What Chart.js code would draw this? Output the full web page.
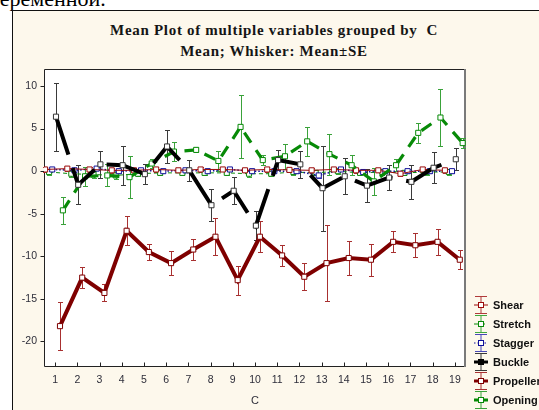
<!DOCTYPE html>
<html><head><meta charset="utf-8">
<script src="https://cdn.jsdelivr.net/npm/chart.js@4.4.1/dist/chart.umd.min.js"></script>
<style>
html,body{margin:0;padding:0;background:#fff;width:539px;height:410px;overflow:hidden;position:relative}
#top{position:absolute;left:-12px;top:-12px;font:22px 'Liberation Serif',serif;line-height:22px;color:#000;white-space:nowrap}
#box{position:absolute;left:12px;top:10px;width:700px;height:500px;border-left:1px solid #111;border-top:1px solid #111;background:#fdf8ec}
#wrap{position:absolute;left:0;top:0;width:539px;height:410px}
.ttl{position:absolute;left:0;width:548px;text-align:center;font:bold 15px 'Liberation Serif',serif;line-height:15px;letter-spacing:0.7px;color:#151515;white-space:nowrap}
#legend{position:absolute;left:473px;top:0;font:bold 11px 'Liberation Sans',sans-serif;color:#111}
.li{position:absolute;left:0;height:20px;display:flex;align-items:center;white-space:nowrap}
.li svg{margin-right:4px;display:block}
</style></head>
<body>
<div id="top">переменной.</div>
<div id="box"></div>
<div class="ttl" style="top:23px">Mean Plot of multiple variables grouped by &nbsp;C</div>
<div class="ttl" style="top:44px">Mean; Whisker: Mean±SE</div>
<div id="wrap"><canvas id="c" width="539" height="410"></canvas></div>
<div id="legend"></div>
<script>
// ---- data ----
const categories = [1,2,3,4,5,6,7,8,9,10,11,12,13,14,15,16,17,18,19];
const xTickLabels = ['1','2','3','4','5','6','7','8','9','10','11','12','13','14','15','16','17','18','19'];
const yTickValues = [10,5,0,-5,-10,-15,-20];

const shear      = [0.2, 0.3, 0.2, 0.1, 0.1, 0.2, 0.1, 0.2, 0.2, 0.1, 0.2, 0.15, 0.1, 0.2, 0.1, 0.1, -0.3, 0.2, 0.1];
const shearSE    = [0.3, 0.3, 0.25, 0.3, 0.2, 0.3, 0.25, 0.3, 0.2, 0.25, 0.3, 0.25, 0.3, 0.2, 0.3, 0.25, 0.3, 0.25, 0.3];
const stretch    = [-0.1, -0.3, -0.4, -0.5, -0.3, -0.2, -0.2, -0.2, -0.2, -0.3, -0.3, -0.1, -0.2, 0.0, -0.2, -0.1, -0.2, -0.1, -0.1];
const stretchSE  = [0.3, 0.35, 0.4, 0.4, 0.3, 0.3, 0.3, 0.3, 0.3, 0.35, 0.3, 0.3, 0.3, 0.3, 0.3, 0.3, 0.3, 0.3, 0.3];
const stagger    = [0.2, 0.1, 0.3, 0.0, 0.1, 0.0, 0.1, 0.0, 0.2, 0.0, 0.0, 0.0, -0.5, 0.2, -0.1, 0.0, 0.0, 0.0, 0.0];
const staggerSE  = [0.2, 0.2, 0.2, 0.2, 0.2, 0.2, 0.2, 0.2, 0.2, 0.2, 0.2, 0.2, 0.25, 0.2, 0.2, 0.2, 0.2, 0.2, 0.2];
const buckle     = [6.4, -1.6, 0.8, 0.7, -0.35, 2.9, 0.1, -4.0, -2.3, -6.4, 1.3, 0.8, -2.0, -0.6, -1.7, -0.75, -1.25, 0.4, 1.4];
const buckleSE   = [4.0, 2.3, 1.6, 2.3, 1.2, 1.9, 1.2, 1.9, 1.6, 1.7, 1.2, 1.55, 5.0, 2.1, 1.9, 1.5, 2.0, 1.8, 1.3];
const propeller  = [-18.2, -12.5, -14.3, -7.0, -9.5, -10.8, -9.2, -7.7, -12.8, -7.7, -9.9, -12.4, -10.8, -10.2, -10.4, -8.3, -8.7, -8.3, -10.4];
const propellerSE= [2.8, 1.2, 1.0, 1.7, 0.9, 1.4, 1.2, 2.2, 1.7, 1.8, 1.2, 1.6, 4.5, 2.0, 1.9, 1.25, 1.4, 1.5, 1.1];
const opening    = [-4.6, -0.6, -0.5, -0.7, 0.9, 2.3, 2.5, 1.2, 5.2, 1.3, 1.75, 3.5, 2.0, 0.7, -1.2, 0.7, 4.5, 6.3, 3.3];
const openingSE  = [1.6, 1.1, 1.3, 2.5, 0.5, 1.1, 0.3, 1.2, 3.7, 0.6, 1.5, 1.7, 2.4, 1.2, 1.6, 0.7, 1.2, 3.35, 0.6];

// ---- styling ----
const series = [
  {label:'Shear',     values:shear,     se:shearSE,     off:-0.45, color:'#9b0a0a', err:'#b03a3a', width:1,   dash:[],      order:3, lw:1},
  {label:'Stretch',   values:stretch,   se:stretchSE,   off:-0.27, color:'#0a8a0a', err:'#3fa83f', width:1,   dash:[4,3],   order:5, lw:1},
  {label:'Stagger',   values:stagger,   se:staggerSE,   off:-0.13, color:'#10109a', err:'#4848b8', width:1.5, dash:[1.5,2], order:4, lw:1},
  {label:'Buckle',    values:buckle,    se:buckleSE,    off:0.04,  color:'#000000', err:'#3a3a3a', width:4,   dash:[40,14], order:0, lw:3, fillMarker:true},
  {label:'Propeller', values:propeller, se:propellerSE, off:0.22,  color:'#7f0000', err:'#a83030', width:4,   dash:[],      order:1, lw:3},
  {label:'Opening',   values:opening,   se:openingSE,   off:0.35,  color:'#078a07', err:'#3aa23a', width:3.2, dash:[12,9],  order:2, lw:3}
];

const datasets = series.map(s => ({
  label: s.label,
  data: s.values.map((v,i) => ({x: categories[i] + s.off, y: v})),
  errors: s.se,
  errColor: s.err,
  borderColor: s.color,
  borderWidth: s.width,
  borderDash: s.dash,
  pointStyle: 'rect',
  pointRadius: 3.6,
  pointBorderWidth: 1,
  pointBorderColor: s.color === '#000000' ? '#333' : s.color,
  pointBackgroundColor: '#fff',
  tension: 0,
  fill: false,
  order: s.order
}));

const framePlugin = {
  id: 'frame',
  beforeDraw(chart) {
    const {ctx, chartArea: a} = chart;
    ctx.save();
    ctx.fillStyle = '#fff';
    ctx.fillRect(a.left, a.top, a.right - a.left, a.bottom - a.top);
    ctx.restore();
  },
  beforeDatasetsDraw(chart) {
    const {ctx, chartArea: a, scales: {x, y}} = chart;
    ctx.save();
    ctx.lineWidth = 1;
    ctx.strokeStyle = '#222';
    const L = Math.round(a.left) + 0.5, B = Math.round(a.bottom) - 0.5, T = Math.round(a.top) + 0.5;
    ctx.beginPath();
    ctx.moveTo(L, T); ctx.lineTo(L, B); ctx.lineTo(a.right, B);
    ctx.moveTo(L, T); ctx.lineTo(a.right, T);
    ctx.stroke();
    ctx.strokeStyle = '#7a7a7a'; ctx.lineWidth = 2;
    ctx.beginPath(); ctx.moveTo(a.right - 1, a.top); ctx.lineTo(a.right - 1, a.bottom); ctx.stroke();
    ctx.strokeStyle = '#222'; ctx.lineWidth = 1;
    ctx.beginPath();
    categories.forEach(c => { const px = Math.round(x.getPixelForValue(c)) + 0.5; ctx.moveTo(px, B); ctx.lineTo(px, B - 4); });
    yTickValues.forEach(v => { const py = Math.round(y.getPixelForValue(v)) + 0.5; ctx.moveTo(L, py); ctx.lineTo(L - 4, py); });
    ctx.stroke();
    ctx.restore();
  }
};

const errorBars = {
  id: 'errorBars',
  beforeDatasetsDraw(chart) {
    const {ctx, scales: {x, y}} = chart;
    ctx.save();
    ctx.lineWidth = 1;
    chart.data.datasets.forEach((ds, i) => {
      ctx.strokeStyle = ds.errColor;
      ctx.beginPath();
      ds.data.forEach((p, j) => {
        const e = ds.errors[j];
        const px = Math.round(x.getPixelForValue(p.x)) + 0.5;
        const y1 = Math.round(y.getPixelForValue(p.y + e)) + 0.5;
        const y2 = Math.round(y.getPixelForValue(p.y - e)) + 0.5;
        ctx.moveTo(px, y1); ctx.lineTo(px, y2);
        ctx.moveTo(px - 2.5, y1); ctx.lineTo(px + 2.5, y1);
        ctx.moveTo(px - 2.5, y2); ctx.lineTo(px + 2.5, y2);
      });
      ctx.stroke();
    });
    ctx.restore();
  }
};

const tickFont = {family: "'Liberation Sans', Arial, sans-serif", size: 10.5};
new Chart(document.getElementById('c'), {
  type: 'line',
  data: {datasets},
  plugins: [framePlugin, errorBars],
  options: {
    responsive: false,
    animation: false,
    layout: {padding: {left: 12, right: 73, top: 69, bottom: 0}},
    plugins: {legend: {display: false}, tooltip: {enabled: false}, title: {display: false}},
    scales: {
      x: {
        type: 'linear', min: 0.5, max: 19.5,
        afterBuildTicks: s => { s.ticks = categories.map(v => ({value: v})); },
        afterFit: s => { s.height = 43; },
        ticks: {callback: (v) => { const i = categories.indexOf(v); return i >= 0 ? xTickLabels[i] : ''; }, font: tickFont, color: '#2e2e3a', padding: 7, maxRotation: 0, autoSkip: false},
        grid: {display: false, drawTicks: false},
        border: {display: false},
        title: {display: true, text: 'C', font: {family: "'Liberation Sans', Arial, sans-serif", size: 11}, color: '#2e2e3a', padding: {top: 0, bottom: 2}}
      },
      y: {
        type: 'linear', min: -23, max: 12,
        afterBuildTicks: s => { s.ticks = yTickValues.map(v => ({value: v})); },
        afterFit: s => { s.width = 32; },
        ticks: {font: tickFont, color: '#2e2e3a', padding: 7},
        grid: {display: false, drawTicks: false},
        border: {display: false}
      }
    }
  }
});

// ---- legend (HTML) ----
const legendCenters = [305, 324, 343, 362, 381, 400];
const lg = document.getElementById('legend');
series.forEach((s, i) => {
  const d = document.createElement('div');
  d.className = 'li';
  d.style.top = (legendCenters[i] - 10) + 'px';
  const dash = s.dash.length ? `stroke-dasharray="${s.lw > 1 ? '6,3' : s.dash.join(',')}"` : '';
  const markFill = s.fillMarker ? s.color : '#fff';
  d.innerHTML = `<svg width="16" height="20" viewBox="0 0 16 20">
    <line x1="8" y1="1" x2="8" y2="19" stroke="${s.err}" stroke-width="1"/>
    <line x1="2" y1="1.5" x2="14" y2="1.5" stroke="${s.err}" stroke-width="1"/>
    <line x1="2" y1="18.5" x2="14" y2="18.5" stroke="${s.err}" stroke-width="1"/>
    <line x1="1" y1="10" x2="15" y2="10" stroke="${s.color}" stroke-width="${s.lw}" ${dash}/>
    <rect x="5.5" y="7.5" width="5" height="5" fill="${markFill}" stroke="${s.color}" stroke-width="1"/>
  </svg><span>${s.label}</span>`;
  lg.appendChild(d);
});
</script>
</body></html>
